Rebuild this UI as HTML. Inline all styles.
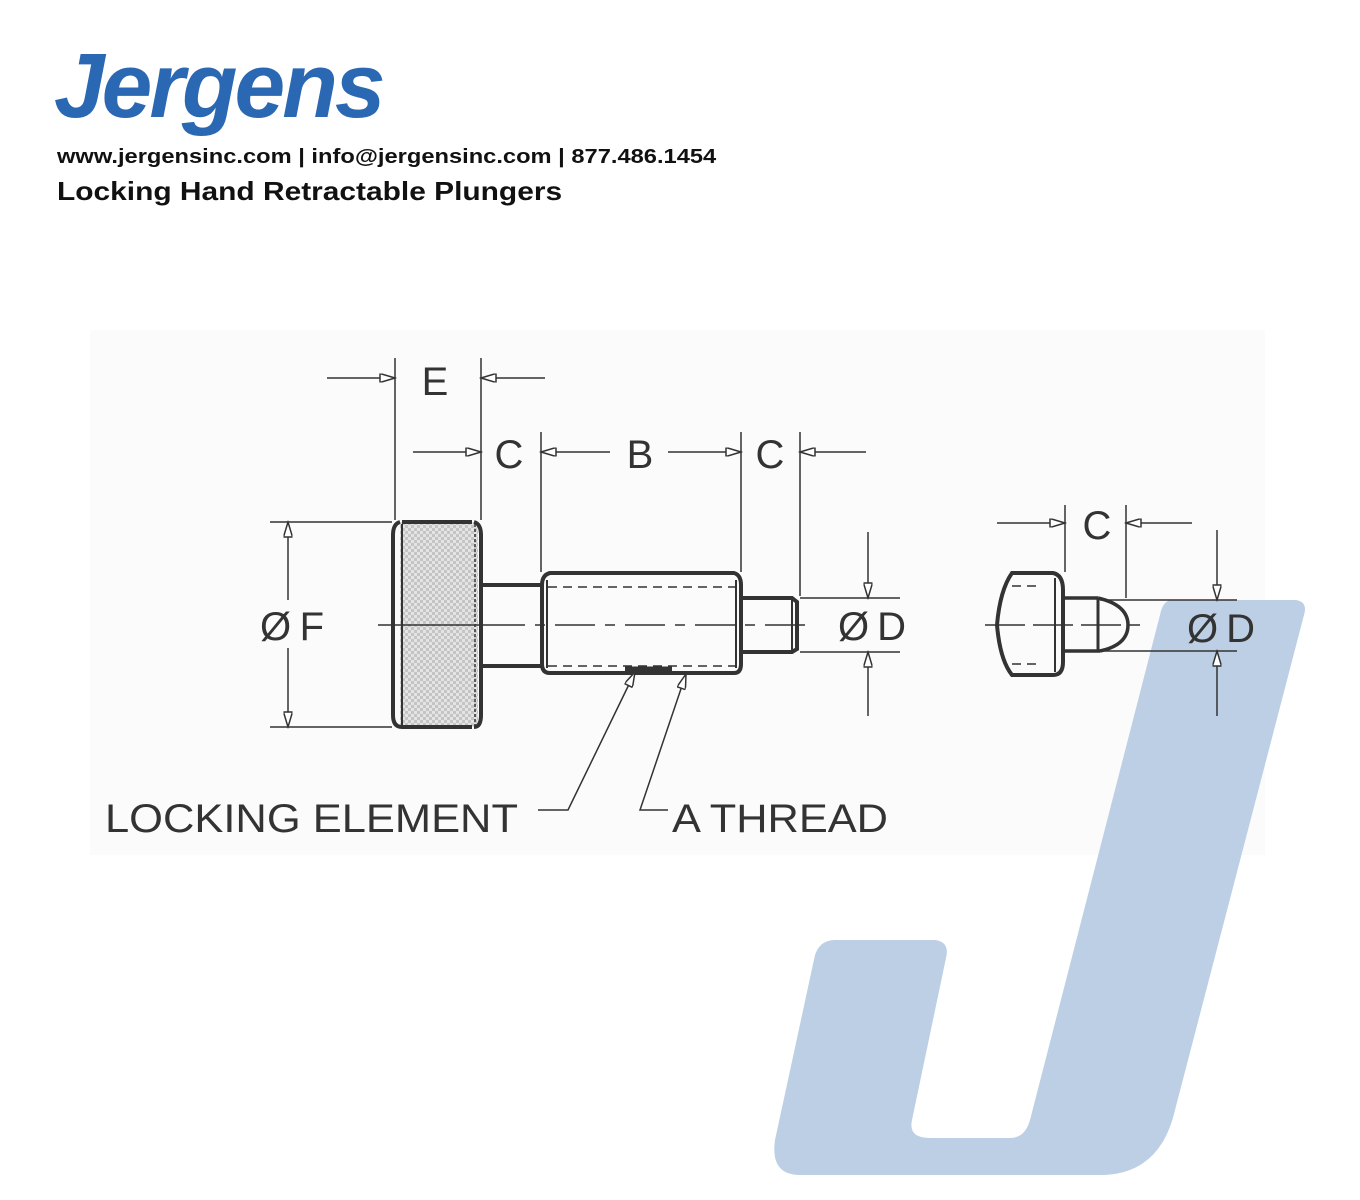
<!DOCTYPE html>
<html><head><meta charset="utf-8"><style>
html,body{margin:0;padding:0;background:#fff;width:1360px;height:1200px;overflow:hidden;position:relative;font-family:"Liberation Sans",sans-serif}
.logo{position:absolute;left:54px;top:40px;font-weight:bold;font-style:italic;font-size:92px;color:#2b68b3;letter-spacing:-3px;transform:scaleX(0.99);transform-origin:left top;line-height:1}
.l1{position:absolute;left:57px;top:145px;font-weight:bold;font-size:20.5px;color:#111;transform:scaleX(1.155);transform-origin:left top;white-space:nowrap}
.l2{position:absolute;left:57px;top:176px;font-weight:bold;font-size:26px;color:#111;transform:scaleX(1.15);transform-origin:left top;white-space:nowrap}
svg{position:absolute;left:0;top:0}
</style></head><body>
<svg width="1360" height="1200" viewBox="0 0 1360 1200">
<defs>
<pattern id="kn" width="6" height="6" patternUnits="userSpaceOnUse"><rect width="6" height="6" fill="#e4e4e4"/><rect width="3" height="3" fill="#c4c4c4"/><rect x="3" y="3" width="3" height="3" fill="#c4c4c4"/></pattern>
<marker id="ar" viewBox="0 0 10 6" refX="10" refY="3" markerWidth="18" markerHeight="9" markerUnits="userSpaceOnUse" orient="auto"><path d="M0,0 L10,3 L0,6 Z" fill="#fff" stroke="#333" stroke-width="1"/></marker>
</defs>
<rect x="90" y="330" width="1175" height="525" fill="#fbfbfb"/>
<path d="M1172,600 L1296,600 Q1308,602 1304,615 L1175,1110 Q1160,1175 1100,1175 L800,1175 Q770,1175 775,1140 L815,955 Q820,940 835,940 L935,940 Q950,942 946,958 L912,1120 Q908,1138 930,1138 L1010,1138 Q1025,1138 1030,1120 L1160,615 Q1163,600 1172,600 Z" fill="#bccfe5"/>
<g stroke="#333" stroke-width="2" fill="none">
<rect x="400" y="522" width="78" height="205" fill="url(#kn)" stroke="none"/>
<path d="M400,522 Q393,524 393,535 L393,715 Q393,727 402,727" stroke-width="4"/>
<path d="M402,522 L472,522 M402,727 L472,727" stroke-width="4"/>
<path d="M474,522 Q481,524 481,535 L481,715 Q481,727 474,727" stroke-width="4"/>
<line x1="402" y1="524" x2="402" y2="725" stroke-width="2"/>
<line x1="475" y1="524" x2="475" y2="725" stroke-width="1.5" stroke-dasharray="3,2"/>
<path d="M481,585 L542,585 M481,666 L542,666" stroke-width="4"/>
<path d="M550,573 L734,573 Q741,575 741,585 L741,664 Q741,673 734,673 L550,673 Q542,673 542,664 L542,585 Q542,575 550,573 Z" stroke-width="4"/>
<line x1="547" y1="580" x2="547" y2="668"/><line x1="736" y1="580" x2="736" y2="668"/>
<path d="M548,587 L736,587 M548,666 L736,666" stroke-dasharray="9,6" stroke-width="1.6"/>
<line x1="625" y1="669" x2="672" y2="669" stroke-width="5"/>
<path d="M741,598 L792,598 L797,602 L797,649 L792,652 L741,652" stroke-width="4"/>
<line x1="792" y1="598" x2="792" y2="652"/>
<line x1="378" y1="625" x2="485" y2="625" stroke-width="1.5"/>
<line x1="485" y1="625" x2="810" y2="625" stroke-width="1.5" stroke-dasharray="40,10,10,10"/>
<line x1="395" y1="358" x2="395" y2="520" stroke-width="1.5"/>
<line x1="481" y1="358" x2="481" y2="520" stroke-width="1.5"/>
<line x1="541" y1="432" x2="541" y2="572" stroke-width="1.5"/>
<line x1="741" y1="432" x2="741" y2="572" stroke-width="1.5"/>
<line x1="800" y1="432" x2="800" y2="596" stroke-width="1.5"/>
<g stroke-width="1.5">
<line x1="327" y1="378" x2="395" y2="378" marker-end="url(#ar)"/>
<line x1="545" y1="378" x2="481" y2="378" marker-end="url(#ar)"/>
<line x1="413" y1="452" x2="481" y2="452" marker-end="url(#ar)"/>
<line x1="610" y1="452" x2="541" y2="452" marker-end="url(#ar)"/>
<line x1="668" y1="452" x2="741" y2="452" marker-end="url(#ar)"/>
<line x1="866" y1="452" x2="800" y2="452" marker-end="url(#ar)"/>
<line x1="270" y1="522" x2="392" y2="522"/><line x1="270" y1="727" x2="392" y2="727"/>
<line x1="288" y1="600" x2="288" y2="522" marker-end="url(#ar)"/>
<line x1="288" y1="648" x2="288" y2="727" marker-end="url(#ar)"/>
<line x1="800" y1="598" x2="900" y2="598"/><line x1="800" y1="652" x2="900" y2="652"/>
<line x1="868" y1="532" x2="868" y2="598" marker-end="url(#ar)"/>
<line x1="868" y1="716" x2="868" y2="652" marker-end="url(#ar)"/>
<polyline points="538,810 568,810 635,672" marker-end="url(#ar)"/>
<polyline points="668,810 640,810 686,674" marker-end="url(#ar)"/>
</g>
<path d="M1012,573 L1053,573 Q1063,575 1063,590 L1063,662 Q1063,675 1053,675 L1012,675 Q1000,660 997,625 Q1000,590 1012,573 Z" stroke-width="4"/>
<line x1="1055" y1="578" x2="1055" y2="672"/>
<path d="M1012,586 L1040,586 M1012,664 L1040,664" stroke-dasharray="9,6" stroke-width="1.6"/>
<path d="M1063,598 L1098,598 M1063,651 L1100,651" stroke-width="3.5"/>
<line x1="1098" y1="598" x2="1098" y2="651" stroke-width="3"/>
<path d="M1098,598 Q1128,605 1128,625 Q1128,645 1100,651" stroke-width="3.5"/>
<line x1="985" y1="625" x2="1140" y2="625" stroke-width="1.5" stroke-dasharray="40,8"/>
<g stroke-width="1.5">
<line x1="1065" y1="505" x2="1065" y2="572"/><line x1="1126" y1="505" x2="1126" y2="598"/>
<line x1="997" y1="523" x2="1065" y2="523" marker-end="url(#ar)"/>
<line x1="1192" y1="523" x2="1126" y2="523" marker-end="url(#ar)"/>
<line x1="1100" y1="600" x2="1237" y2="600"/><line x1="1100" y1="651" x2="1237" y2="651"/>
<line x1="1217" y1="530" x2="1217" y2="600" marker-end="url(#ar)"/>
<line x1="1217" y1="716" x2="1217" y2="651" marker-end="url(#ar)"/>
</g>
</g>
<g font-family="Liberation Sans, sans-serif" fill="#333" font-size="40">
<text x="435" y="395" text-anchor="middle">E</text>
<text x="509" y="468" text-anchor="middle">C</text>
<text x="640" y="468" text-anchor="middle">B</text>
<text x="770" y="468" text-anchor="middle">C</text>
<text x="1097" y="539" text-anchor="middle">C</text>
<text x="260" y="640" textLength="64">ØF</text>
<text x="838" y="640" textLength="68">ØD</text>
<text x="1187" y="642" textLength="68">ØD</text>
<text x="105" y="832" textLength="413" lengthAdjust="spacingAndGlyphs">LOCKING ELEMENT</text>
<text x="672" y="832" textLength="216" lengthAdjust="spacingAndGlyphs">A THREAD</text>
</g>
</svg>
<div class="logo">Jergens</div>
<div class="l1">www.jergensinc.com | info@jergensinc.com | 877.486.1454</div>
<div class="l2">Locking Hand Retractable Plungers</div>
</body></html>
